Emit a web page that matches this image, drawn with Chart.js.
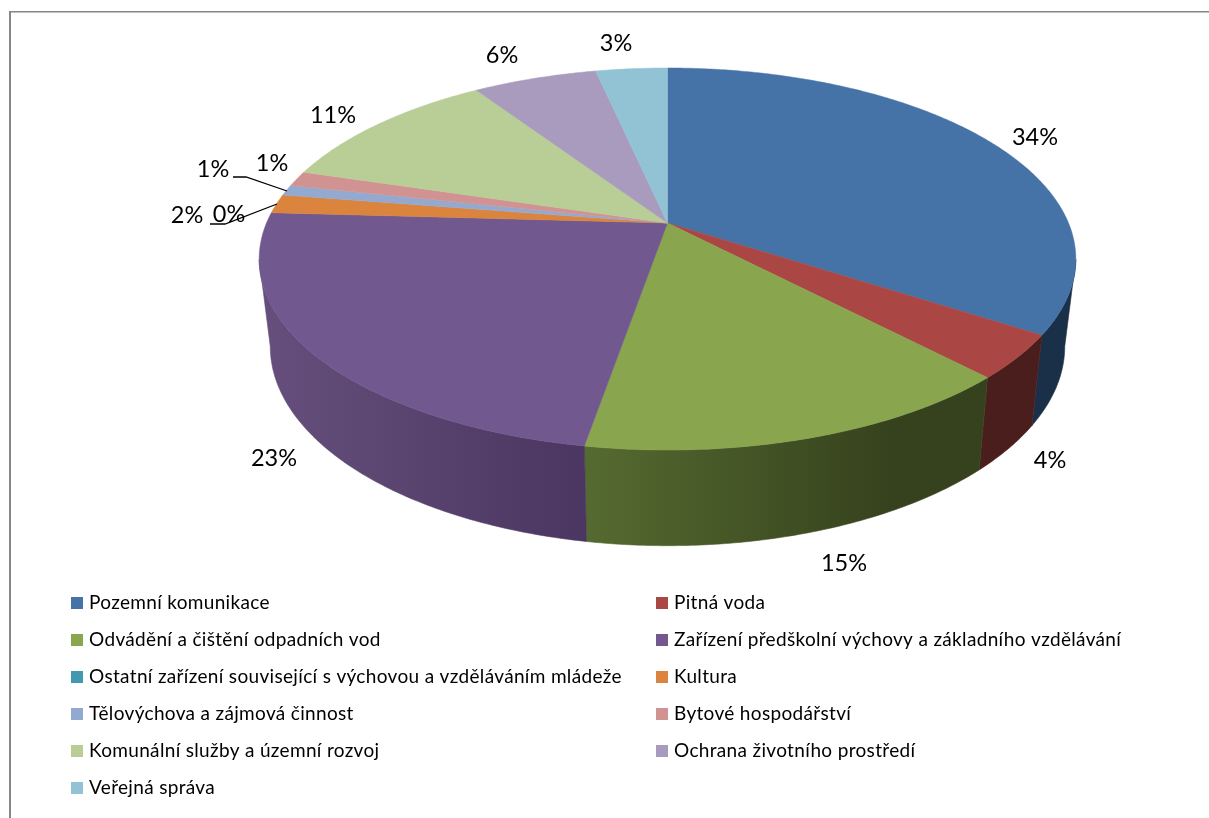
<!DOCTYPE html>
<html><head><meta charset="utf-8">
<style>html,body{margin:0;padding:0;background:#fff}canvas{display:block}</style>
<script src="https://cdn.jsdelivr.net/npm/chart.js@4"></script>
</head><body>
<canvas id="c" width="1209" height="818"></canvas>
<script>
const categories = ["Pozemní komunikace","Pitná voda","Odvádění a čištění odpadních vod","Zařízení předškolní výchovy a základního vzdělávání","Ostatní zařízení související s výchovou a vzděláváním mládeže","Kultura","Tělovýchova a zájmová činnost","Bytové hospodářství","Komunální služby a územní rozvoj","Ochrana životního prostředí","Veřejná správa"];
const values = [34.2,3.7,14.8,23.2,0,1.6,0.9,1.3,11.0,5.9,3.4];
const colors = ["#4572A7","#AA4643","#89A54E","#71588F","#4198AF","#DB843D","#93A9CF","#D19392","#B9CD96","#A99BBD","#91C3D5"];
const sideFrom = ["#1a3049","#4a1e1c","#556a30","#654e7b","#1c4a55","#6a3f1c","#4a5568","#664848","#5a6448","#52495c","#475f68"];
const sideTo   = ["#1a3049","#4a1e1c","#36421d","#4a3660","#1c4a55","#6a3f1c","#4a5568","#664848","#5a6448","#52495c","#475f68"];

// label centres, in the same order as the categories
const labelPos = [[1035,137],[1050,460],[844,563],[274,458],[229,214],[187,215],[213,169],[272,163],[333,115],[502,55],[616,43]];
const leaders = [[[233,177],[246,177],[287,191]],[[210,224],[225,224],[277,204]]];

const TOP = {cx:667.5, rx:401, c:-0.1885, A:142.2, B:223};
const BOT = {cx:667.5, rx:390, c:-0.19, A:133.6, B:308.4};
function proj(g, th){ // th: Chart.js arc angle (radians, -PI/2 = top)
  const x=Math.cos(th), y=Math.sin(th), w=1+g.c*y;
  return [g.cx+g.rx*x/w,(g.A*y+g.B)/w];
}
function rim(ctx,g,a,b,first){
  const n=Math.max(2,Math.ceil(Math.abs(b-a)/0.01));
  for(let i=0;i<=n;i++){
    const p=proj(g,a+(b-a)*i/n);
    if(i===0&&first) ctx.moveTo(p[0],p[1]); else ctx.lineTo(p[0],p[1]);
  }
}
const FONT='Lato, sans-serif';
const pie3d={
  id:'pie3d',
  beforeDatasetsDraw(chart){
    const ctx=chart.ctx, arcs=chart.getDatasetMeta(0).data;
    ctx.save();
    // side walls, between the two silhouette tangents
    const D=Math.PI/180, lo=11*D, hi=169*D;
    arcs.forEach((el,i)=>{
      const a=Math.max(el.startAngle,lo), b=Math.min(el.endAngle,hi);
      if(b<=a) return;
      const xa=proj(BOT,a)[0], xb=proj(BOT,b)[0];
      let grad;
      if(i===2){
        grad=ctx.createLinearGradient(Math.min(xa,xb),0,Math.max(xa,xb)-90,0);
        grad.addColorStop(0,sideFrom[i]);grad.addColorStop(1,sideTo[i]);
      } else {
        grad=ctx.createLinearGradient(Math.min(xa,xb),0,Math.max(xa,xb),0);
        grad.addColorStop(0,sideFrom[i]);grad.addColorStop(1,sideTo[i]);
      }
      ctx.fillStyle=grad; ctx.strokeStyle=grad; ctx.lineWidth=0.6;
      ctx.beginPath();
      rim(ctx,TOP,a,b,true);
      rim(ctx,BOT,b,a,false);
      ctx.closePath(); ctx.fill(); ctx.stroke();
    });
    // top face
    arcs.forEach((el,i)=>{
      if(el.endAngle-el.startAngle<=0) return;
      ctx.fillStyle=colors[i]; ctx.strokeStyle=colors[i]; ctx.lineWidth=0.5;
      ctx.beginPath(); ctx.moveTo(TOP.cx,TOP.B);
      rim(ctx,TOP,el.startAngle,el.endAngle,false);
      ctx.closePath(); ctx.fill(); ctx.stroke();
    });
    ctx.restore();
    return false; // replaces the flat arcs
  },
  afterDraw(chart){
    const ctx=chart.ctx;
    const total=values.reduce((a,b)=>a+b,0);
    ctx.save();
    // frame
    ctx.fillStyle='#868686';
    ctx.fillRect(9,11,2,807);
    ctx.fillRect(9,11,1200,1.5);
    // leader lines
    ctx.strokeStyle='#000'; ctx.lineWidth=1.3;
    leaders.forEach(l=>{ctx.beginPath();l.forEach((p,i)=>i?ctx.lineTo(p[0],p[1]):ctx.moveTo(p[0],p[1]));ctx.stroke();});
    // data labels
    ctx.fillStyle='#000'; ctx.textAlign='center'; ctx.textBaseline='middle';
    ctx.font='23.5px '+FONT;
    values.forEach((v,i)=>{
      ctx.fillText(Math.round(v/total*100)+'%',labelPos[i][0],labelPos[i][1]);
    });
    // legend, from the chart's own legend items
    const items=Chart.overrides.pie.plugins.legend.labels.generateLabels(chart);
    ctx.textAlign='left'; ctx.font='19px '+FONT; ctx.letterSpacing='0.33px'; ctx.fillStyle='#000';
    items.forEach((it,i)=>{
      const col=i%2, row=(i-col)/2;
      const x=col?656:71, y=602.5+row*37;
      ctx.fillStyle=it.fillStyle; ctx.fillRect(x,y-5.5,12,12);
      ctx.fillStyle='#000'; ctx.fillText(it.text,x+18,y);
    });
    ctx.restore();
  }
};
new Chart(document.getElementById('c'),{
  type:'pie',
  data:{labels:categories,datasets:[{data:values,backgroundColor:colors,borderWidth:0}]},
  options:{
    responsive:false,animation:false,
    plugins:{legend:{display:false},tooltip:{enabled:false}}
  },
  plugins:[pie3d]
});
</script>
</body></html>
